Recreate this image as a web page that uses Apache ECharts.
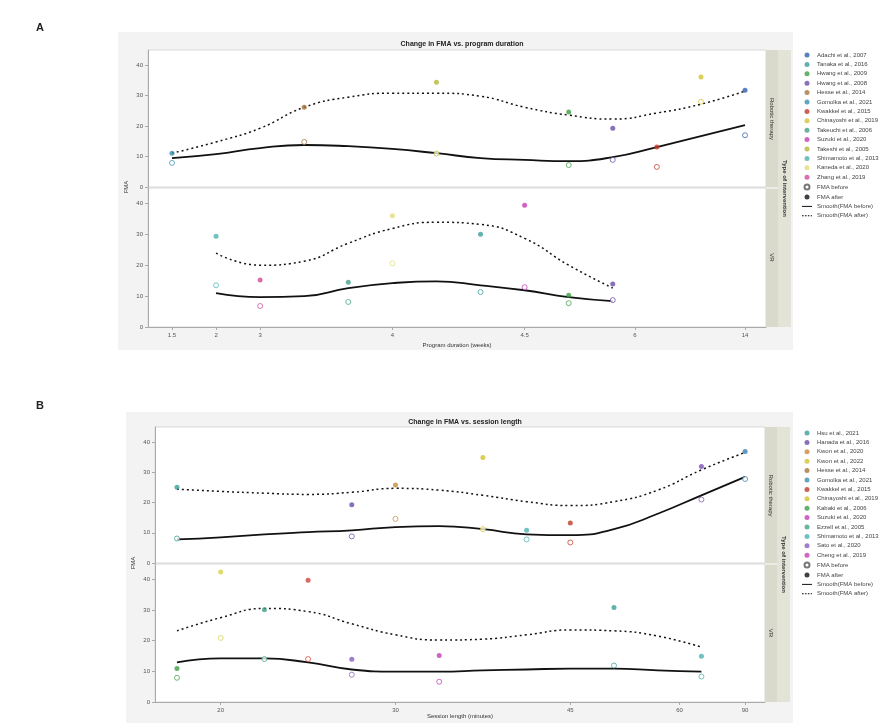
<!DOCTYPE html>
<html>
<head>
<meta charset="utf-8">
<script src="https://cdn.jsdelivr.net/npm/echarts@6/dist/echarts.min.js"></script>
<style>html,body{margin:0;background:#fff}</style>
</head>
<body>
<div id="main" style="width:887px;height:723px;"></div>
<script>
// study names (legend order)
var studiesA = ['Adachi et al., 2007', 'Tanaka et al., 2016', 'Hwang et al., 2009', 'Hwang et al., 2008',
    'Hesse et al., 2014', 'Gomolka et al., 2021', 'Kwakkel et al., 2015', 'Chinayoshi et al., 2019',
    'Takeuchi et al., 2006', 'Suzuki et al., 2020', 'Takeshi et al., 2005', 'Shimamoto et al., 2013',
    'Kaneda et al., 2020', 'Zhang et al., 2019'];
var studiesB = ['Hsu et al., 2021', 'Hanada et al., 2016', 'Kwon et al., 2020', 'Kwon et al., 2022',
    'Hesse et al., 2014', 'Gomolka et al., 2021', 'Kwakkel et al., 2015', 'Chinayoshi et al., 2019',
    'Kabaki et al., 2006', 'Suzuki et al., 2020', 'Ezzell et al., 2005', 'Shimamoto et al., 2013',
    'Sato et al., 2020', 'Cheng et al., 2019'];
var colorsA = ['#2f5fb3', '#3a9e9a', '#3f9e46', '#6b4ca8', '#a8743a', '#3b8fb0', '#c0392b',
    '#d4c22f', '#45a08a', '#c23fb5', '#b5b53a', '#4bb3b0', '#e0dd7a', '#d04b9b'];
var colorsB = ['#3a9e9a', '#6b4ca8', '#c98a3a', '#d4c22f', '#4bb3b0', '#c0392b', '#7b50b8',
    '#3b7fb0', '#3f9e46', '#d9d24a', '#45a08a', '#d0443a', '#8a5cc0', '#c23fb5'];
var facetNames = ['Robotic therapy', 'VR'];

// A: program duration (x = ordinal position)
var durLabels = ['1.5', '2', '3', '4', '4.5', '6', '14'];
var durLabelPos = [0, 1, 2, 5, 8, 10.5, 13];
var aStudy  = [5, 4, 10, 2, 3, 6, 7, 0, 11, 13, 8, 12, 1, 9, 2, 3];
var aX      = [0, 3, 6, 9, 10, 11, 12, 13, 1, 2, 4, 5, 7, 8, 9, 10];
var aFacet  = [0, 0, 0, 0, 0, 0, 0, 0, 1, 1, 1, 1, 1, 1, 1, 1];
var aBefore = [7.9, 14.8, 11.0, 7.2, 8.9, 6.6, 28.0, 17.0, 13.5, 6.8, 8.1, 20.6, 11.3, 12.9, 7.7, 8.7];
var aAfter  = [11.1, 26.2, 34.4, 24.6, 19.3, 13.1, 36.1, 31.8, 29.4, 15.2, 14.5, 36.0, 30.0, 39.4, 10.3, 13.9];
var aSmoothStart = [0, 1];
var aSmoothBefore = [
    [9.5, 10.8, 12.8, 13.8, 13.4, 12.5, 11.1, 9.5, 8.9, 8.5, 9.8, 13.1, 16.7, 20.3],
    [11.0, 9.7, 10.0, 12.6, 14.2, 14.8, 13.5, 11.9, 9.7, 8.4]];
var aSmoothAfter = [
    [11.1, 14.8, 19.3, 26.2, 29.5, 30.8, 30.8, 29.8, 26.2, 23.6, 22.3, 24.3, 27.2, 31.5],
    [23.9, 20.0, 21.3, 27.1, 31.9, 33.9, 33.2, 28.7, 20.0, 12.6]];

// B: session length
var sesLabels = ['20', '30', '45', '60', '90'];
var sesLabelPos = [1, 5, 9, 11.5, 13];
var bStudy  = [0, 1, 2, 3, 4, 5, 6, 7, 8, 9, 10, 11, 12, 13, 0, 4];
var bX      = [0, 4, 5, 7, 8, 9, 12, 13, 0, 1, 2, 3, 4, 6, 10, 12];
var bFacet  = [0, 0, 0, 0, 0, 0, 0, 0, 1, 1, 1, 1, 1, 1, 1, 1];
var bBefore = [8.1, 8.8, 14.6, 11.2, 7.8, 6.8, 21.0, 27.8, 7.9, 20.9, 14.0, 14.0, 8.9, 6.6, 11.9, 8.3];
var bAfter  = [25.1, 19.3, 25.8, 34.9, 10.8, 13.2, 31.9, 36.9, 10.9, 42.4, 30.1, 39.7, 13.9, 15.2, 30.8, 14.9];
var bSmoothStart = [0, 0];
var bSmoothBefore = [
    [7.8, 8.5, 9.5, 10.2, 10.8, 11.9, 12.2, 11.2, 9.5, 9.2, 11.2, 16.3, 22.4, 28.5],
    [12.9, 14.2, 14.2, 12.9, 10.6, 9.9, 9.9, 10.3, 10.6, 10.9, 10.9, 10.3, 9.9]];
var bSmoothAfter = [
    [24.4, 23.7, 23.1, 22.7, 23.4, 24.7, 24.1, 22.4, 20.3, 19.0, 20.3, 24.1, 30.8, 36.6],
    [23.2, 27.5, 30.5, 29.5, 25.5, 21.9, 20.2, 20.5, 21.9, 23.5, 23.2, 21.5, 17.9]];

var yTicks = [0, 10, 20, 30, 40];
var font = 'Liberation Sans';

var myChart = echarts.init(document.getElementById('main'));

var grids = [
    { left: 148, top: 50, width: 618, height: 137 },
    { left: 148, top: 188, width: 618, height: 139 },
    { left: 155, top: 427, width: 610, height: 136 },
    { left: 155, top: 564, width: 610, height: 138 }
];
grids.forEach(function (g) {
    g.show = true; g.backgroundColor = '#fff'; g.borderColor = '#d8d8d8'; g.borderWidth = 1;
});

function xAxis(gi, min, max, labels, pos, show) {
    return {
        type: 'value', gridIndex: gi, min: min, max: max,
        splitLine: { show: false },
        axisLine: { show: show, onZero: false, lineStyle: { color: '#aaa' } },
        axisTick: { show: show, customValues: pos, length: 3, lineStyle: { color: '#aaa' } },
        axisLabel: {
            show: show, customValues: pos, margin: 5,
            fontSize: 6, color: '#555', fontFamily: font,
            formatter: function (v) { return labels[pos.indexOf(v)]; }
        }
    };
}
function yAxis(gi) {
    return {
        type: 'value', gridIndex: gi, min: 0, max: 45,
        splitLine: { show: false },
        axisLine: { show: true, onZero: false, lineStyle: { color: '#aaa' } },
        axisTick: { show: true, customValues: yTicks, length: 3, lineStyle: { color: '#aaa' } },
        axisLabel: { customValues: yTicks, margin: 5, fontSize: 6, color: '#555', fontFamily: font }
    };
}

var xAxes = [
    xAxis(0, -0.544, 13.476, durLabels, durLabelPos, false),
    xAxis(1, -0.544, 13.476, durLabels, durLabelPos, true),
    xAxis(2, -0.503, 13.455, sesLabels, sesLabelPos, false),
    xAxis(3, -0.503, 13.455, sesLabels, sesLabelPos, true)
];
var yAxes = [yAxis(0), yAxis(1), yAxis(2), yAxis(3)];

var series = [];

function addPanel(g0, names, colors, st, xs, fc, bef, aft, smStart, smBef, smAft) {
    for (var f = 0; f < 2; f++) {
        var gi = g0 + f;
        for (var s = 0; s < names.length; s++) {
            var pts = [];
            for (var k = 0; k < st.length; k++) {
                if (st[k] !== s || fc[k] !== f) continue;
                var c = colors[s];
                pts.push({ value: [xs[k], bef[k]], itemStyle: { color: '#fff', borderColor: c, borderWidth: 1, opacity: 0.75 } });
                pts.push({ value: [xs[k], aft[k]], itemStyle: { color: c } });
            }
            if (!pts.length) continue;
            series.push({
                name: names[s], type: 'scatter', xAxisIndex: gi, yAxisIndex: gi,
                symbol: 'circle', symbolSize: 5, itemStyle: { color: colors[s] },
                data: pts, z: 3
            });
        }
        var sb = smBef[f].map(function (v, i) { return [smStart[f] + i, v]; });
        var sa = smAft[f].map(function (v, i) { return [smStart[f] + i, v]; });
        series.push({
            name: 'Smooth(FMA before)', type: 'line', xAxisIndex: gi, yAxisIndex: gi,
            smooth: 0.5, symbol: 'none', data: sb, z: 2,
            lineStyle: { color: '#111', width: 1.8 }, itemStyle: { color: '#111' }
        });
        series.push({
            name: 'Smooth(FMA after)', type: 'line', xAxisIndex: gi, yAxisIndex: gi,
            smooth: 0.5, symbol: 'none', data: sa, z: 2,
            lineStyle: { color: '#111', width: 1.5, type: [2, 3] }, itemStyle: { color: '#111' }
        });
    }
}
addPanel(0, studiesA, colorsA, aStudy, aX, aFacet, aBefore, aAfter, aSmoothStart, aSmoothBefore, aSmoothAfter);
addPanel(2, studiesB, colorsB, bStudy, bX, bFacet, bBefore, bAfter, bSmoothStart, bSmoothBefore, bSmoothAfter);

// legend-only entries for marker meaning
series.push({ name: 'FMA before', type: 'scatter', xAxisIndex: 0, yAxisIndex: 0, symbol: 'emptyCircle', symbolSize: 6, itemStyle: { color: '#555' }, data: [] });
series.push({ name: 'FMA after', type: 'scatter', xAxisIndex: 0, yAxisIndex: 0, symbol: 'circle', symbolSize: 6, itemStyle: { color: '#111' }, data: [] });

var extra = [
    'FMA before', 'FMA after',
    { name: 'Smooth(FMA before)', icon: 'path://M0,0 L12,0 L12,1.2 L0,1.2 Z' },
    { name: 'Smooth(FMA after)', icon: 'path://M0,0h2v1.2h-2z M3.5,0h2v1.2h-2z M7,0h2v1.2h-2z M10.5,0h1.5v1.2h-1.5z' }
];
function legend(names, top) {
    return {
        data: names.concat(extra), orient: 'vertical', left: 797, top: top,
        itemWidth: 10, itemHeight: 5, itemGap: 3.4, selectedMode: false,
        textStyle: { fontSize: 6, color: '#444', fontFamily: font, lineHeight: 6 }
    };
}

function facetGraphics(x, gTop, gBot, title) {
    var top = gTop.top, mid = gBot.top, bot = gBot.top + gBot.height;
    return [
        { type: 'rect', shape: { x: x, y: top, width: 12, height: bot - top }, style: { fill: '#d9d9cc' } },
        { type: 'rect', shape: { x: x + 12, y: top, width: 13, height: bot - top }, style: { fill: '#e3e3d8' } },
        { type: 'line', shape: { x1: x, y1: mid, x2: x + 12, y2: mid }, style: { stroke: '#fff', lineWidth: 1 } },
        { type: 'text', x: x + 6, y: (top + mid) / 2, rotation: -Math.PI / 2,
          style: { text: facetNames[0], fontSize: 6, fill: '#333', fontFamily: font, align: 'center', verticalAlign: 'middle' } },
        { type: 'text', x: x + 6, y: (mid + bot) / 2, rotation: -Math.PI / 2,
          style: { text: facetNames[1], fontSize: 6, fill: '#333', fontFamily: font, align: 'center', verticalAlign: 'middle' } },
        { type: 'text', x: x + 18.5, y: (top + bot) / 2, rotation: -Math.PI / 2,
          style: { text: title, fontSize: 6, fontWeight: 'bold', fill: '#333', fontFamily: font, align: 'center', verticalAlign: 'middle' } }
    ];
}

var graphics = [
    { type: 'rect', z: -10, shape: { x: 118, y: 32, width: 675, height: 318 }, style: { fill: '#f3f3f3' } },
    { type: 'rect', z: -10, shape: { x: 126, y: 412, width: 667, height: 311 }, style: { fill: '#f3f3f3' } },
    { type: 'text', x: 36, y: 22, style: { text: 'A', fontSize: 11, fontWeight: 'bold', fill: '#222', fontFamily: font } },
    { type: 'text', x: 36, y: 400, style: { text: 'B', fontSize: 11, fontWeight: 'bold', fill: '#222', fontFamily: font } },
    { type: 'text', x: 126, y: 187, rotation: Math.PI / 2,
      style: { text: 'FMA', fontSize: 6, fill: '#333', fontFamily: font, align: 'center', verticalAlign: 'middle' } },
    { type: 'text', x: 133, y: 563, rotation: Math.PI / 2,
      style: { text: 'FMA', fontSize: 6, fill: '#333', fontFamily: font, align: 'center', verticalAlign: 'middle' } },
    { type: 'text', x: 457, y: 345,
      style: { text: 'Program duration (weeks)', fontSize: 6, fill: '#333', fontFamily: font, align: 'center', verticalAlign: 'middle' } },
    { type: 'text', x: 460, y: 716,
      style: { text: 'Session length (minutes)', fontSize: 6, fill: '#333', fontFamily: font, align: 'center', verticalAlign: 'middle' } }
].concat(facetGraphics(766, grids[0], grids[1], 'Type of intervention'))
 .concat(facetGraphics(765, grids[2], grids[3], 'Type of intervention'));

myChart.setOption({
    animation: false,
    title: [
        { text: 'Change in FMA vs. program duration', left: 457, top: 36, textAlign: 'center',
          textStyle: { fontSize: 7, fontWeight: 'bold', color: '#222', fontFamily: font } },
        { text: 'Change in FMA vs. session length', left: 460, top: 414, textAlign: 'center',
          textStyle: { fontSize: 7, fontWeight: 'bold', color: '#222', fontFamily: font } }
    ],
    legend: [legend(studiesA, 47), legend(studiesB, 425)],
    grid: grids,
    xAxis: xAxes,
    yAxis: yAxes,
    graphic: graphics,
    series: series
});
</script>
</body>
</html>
